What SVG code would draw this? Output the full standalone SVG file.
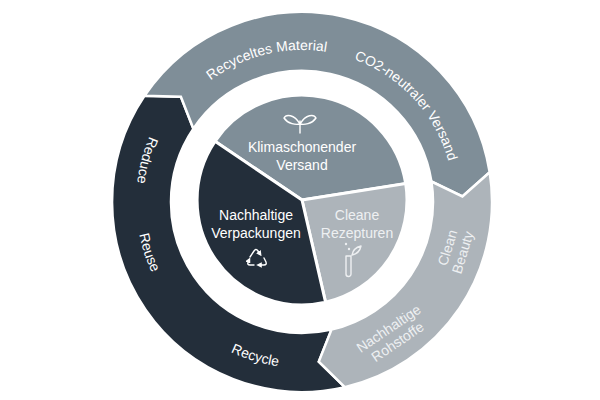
<svg xmlns="http://www.w3.org/2000/svg" width="600" height="400" viewBox="0 0 600 400">
<style>
.seg{stroke:#fff;stroke-width:2.5;stroke-linejoin:miter}
.d{fill:#232e3a}.g{fill:#7f8e98}.l{fill:#adb4ba}
text{font-family:"Liberation Sans","DejaVu Sans",sans-serif;font-size:14px;fill:#fff;text-anchor:middle}
.lt{fill:#eef0f2}
.ic{fill:none;stroke:#fff;stroke-width:1.4;stroke-linecap:round;stroke-linejoin:round}
</style>
<defs>
<path id="topArc" d="M177.5 114.8 A152 152 0 0 1 453.4 188.7"/>
<path id="leftArc" d="M166 106.8 A166 166 0 0 0 345 362.3"/>
<marker id="ah" viewBox="0 0 6 6" refX="3" refY="3" markerWidth="4" markerHeight="4" orient="auto"><path d="M0 0 L6 3 L0 6 Z" fill="#fff"/></marker>
</defs>
<rect width="600" height="400" fill="#fff"/>
<g id="ring-dark">
<path class="seg d" d="M344.8 387.1 A190 190 0 0 1 144.5 95.8 L180.9 96.7 L193.4 128.7 A131 131 0 0 0 331.5 329.6 L318.8 361.6 Z"/>
<text><textPath href="#leftArc" startOffset="58">Reduce</textPath></text>
<text><textPath href="#leftArc" startOffset="154">Reuse</textPath></text>
<text><textPath href="#leftArc" startOffset="313">Recycle</textPath></text>
</g>
<g id="ring-gray">
<path class="seg g" d="M144.5 95.8 A190 190 0 0 1 489.7 172.3 L462.4 196.4 L431.4 181.5 A131 131 0 0 0 193.4 128.7 L180.9 96.7 Z"/>
<text><textPath href="#topArc" startOffset="109">Recyceltes Material</textPath></text>
<text><textPath href="#topArc" startOffset="271">CO2-neutraler Versand</textPath></text>
</g>
<g id="ring-light">
<path class="seg l" d="M489.7 172.3 A190 190 0 0 1 344.8 387.1 L318.8 361.6 L331.5 329.6 A131 131 0 0 0 431.4 181.5 L462.4 196.4 Z"/>
<text class="lt" transform="translate(455,250) rotate(-73)"><tspan x="0" y="-3">Clean</tspan><tspan x="0" y="13">Beauty</tspan></text>
<text class="lt" transform="translate(393,335) rotate(-34)"><tspan x="0" y="-3">Nachhaltige</tspan><tspan x="0" y="13">Rohstoffe</tspan></text>
</g>
<g id="pie-gray">
<path class="seg g" style="stroke-width:3" d="M302 200 L215 141.3 A105 105 0 0 1 405.7 183.6 Z"/>
<path class="ic" d="M300 133 V121 M300 124 C294 114 286 114 284 118 C288 124 296 125 300 124 M300 124 C306 114 314 114 316 118 C312 124 304 125 300 124"/>
<text x="302" y="152">Klimaschonender</text>
<text x="302" y="170">Versand</text>
</g>
<g id="pie-light">
<path class="seg l" style="stroke-width:3" d="M302 200 L405.7 183.6 A105 105 0 0 1 325.6 302.3 Z"/>
<text class="lt" x="357" y="220">Cleane</text>
<text class="lt" x="357" y="238">Rezepturen</text>
<path class="ic" style="stroke:#eef0f2" d="M346 256 V274 A2.5 2.5 0 0 0 351 274 V256 Z M352 255 C353 249 357 247 361 246 C360 251 357 254 352 255"/>
<circle cx="346" cy="244" r="1.2" fill="#eef0f2"/><circle cx="349" cy="249" r="1.2" fill="#eef0f2"/>
</g>
<g id="pie-dark">
<path class="seg d" style="stroke-width:3" d="M302 200 L325.6 302.3 A105 105 0 0 1 215 141.3 Z"/>
<text x="256" y="220">Nachhaltige</text>
<text x="256" y="238">Verpackungen</text>
<path class="ic" marker-end="url(#ah)" d="M250 257 L254 251 Q256 248 258 251 L260 254"/>
<path class="ic" marker-end="url(#ah)" d="M264 258 L266 262 Q267 265 264 265 L259 265"/>
<path class="ic" marker-end="url(#ah)" d="M254 265 L250 265 Q247 265 248 262 L249 260"/>
</g>
<g id="connectors"></g>
</svg>
